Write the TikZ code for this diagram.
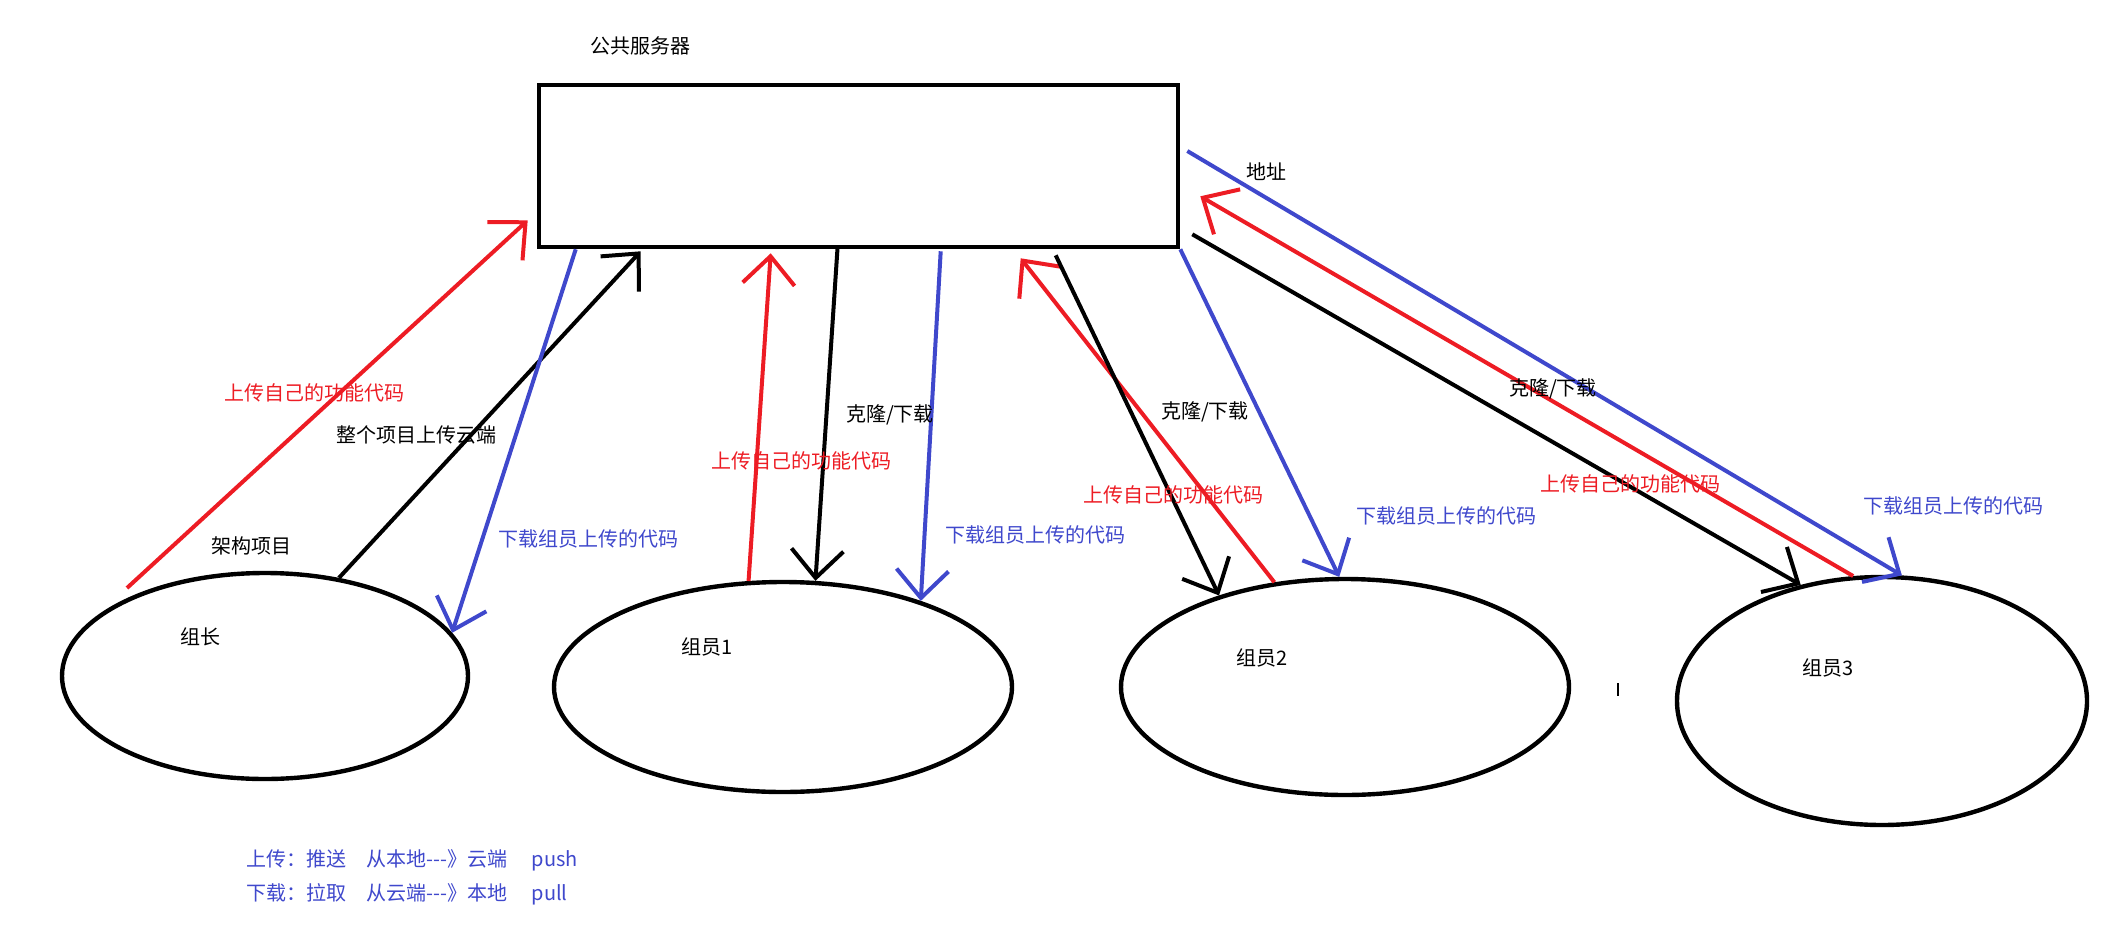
\documentclass[tikz,border=0pt]{standalone}
\usepackage{fontspec}
\usepackage{xcolor}
\usepackage{tikz}
\usetikzlibrary{shapes.geometric, arrows.meta, positioning}
\setmainfont{Noto Sans CJK SC}[Ligatures=TeXOff]

\definecolor{paintred}{HTML}{ED1C24}
\definecolor{paintblue}{HTML}{3F48CC}

\begin{document}
\begin{tikzpicture}[
    x=0.5pt, y=-0.5pt,
    server/.style={rectangle, draw, line width=2.3pt, minimum width=319.5pt, minimum height=81pt, inner sep=0pt},
    member/.style={ellipse, draw, line width=2.2pt, inner sep=0pt},
    txt/.style={font=\fontsize{10pt}{12pt}\selectfont, inner sep=0pt},
    redtxt/.style={txt, text=paintred},
    bluetxt/.style={txt, text=paintblue},
    arrow/.style={-{Straight Barb[length=14pt,width=26pt]}, line width=2pt},
    redarrow/.style={arrow, paintred},
    bluearrow/.style={arrow, paintblue}
]
\useasboundingbox (0,0) rectangle (2109,937);

% Server
\node[server] (server) at (858.5,166) {};
\node[txt] (servername) at (640,46) {公共服务器};

% Group
\node[member, minimum width=203pt, minimum height=103pt] (leader) at (265,676) {};
\node[member, minimum width=229pt, minimum height=105pt] (member1) at (783,687) {};
\node[member, minimum width=224pt, minimum height=108pt] (member2) at (1345,687) {};
\node[member, minimum width=205pt, minimum height=124pt] (member3) at (1882,701) {};
\node[txt] (leadername) at (200,637) {组长};
\node[txt] (member1name) at (707,647) {组员1};
\node[txt] (member2name) at (1262,658) {组员2};
\node[txt] (member3name) at (1828,668) {组员3};
\draw[line width=0.8pt] (1618,683) -- (1618,696);

% Leader arrows
\draw[redarrow] ([xshift=-69pt, yshift=44pt]leader.center) -- ([xshift=-4.5pt, yshift=14.5pt]server.south west);
\draw[arrow] (leader.53) -- ([xshift=52pt, yshift=-1pt]server.south west);
\draw[bluearrow] ([xshift=19.5pt]server.south west) -- (leader.13);
\node[redtxt] (leaderup) at (314,393) {上传自己的功能代码};
\node[txt] (leaderinit) at (416,435) {整个项目上传云端};
\node[bluetxt] (leaderdown) at (588,539) {下载组员上传的代码};
\node[txt] (leaderproject) at (251,546) {架构项目};

% Member 1 arrows
\draw[redarrow] (member1.108) -- ([xshift=117pt, yshift=-2pt]server.south west);
\draw[arrow] ([xshift=150.5pt, yshift=2pt]server.south west) -- (member1.73);
\draw[bluearrow] ([xshift=202pt, yshift=-1pt]server.south west) -- (member1.32);
\node[txt] (member1clone) at (890,415) {克隆/下载};
\node[redtxt] (member1up) at (801,461) {上传自己的功能代码};
\node[bluetxt] (member1down) at (1035,535) {下载组员上传的代码};

% Member 2 arrows
\draw[redarrow] (member2.124) -- ([xshift=242pt, yshift=-4.5pt]server.south west);
\draw[arrow] ([xshift=259.5pt, yshift=-3pt]server.south west) -- (member2.144);
\draw[bluearrow] (server.south east) -- (member2.93);
\node[txt] (member2clone) at (1205,412) {克隆/下载};
\node[redtxt] (member2up) at (1173,495) {上传自己的功能代码};
\node[bluetxt] (member2down) at (1446,516) {下载组员上传的代码};

% Member 3 arrows
\draw[arrow] ([xshift=6pt, yshift=7.5pt]server.south east) -- (member3.125);
\draw[redarrow] (member3.103) -- ([xshift=10pt, yshift=26.5pt]server.south east);
\draw[bluearrow] ([xshift=3.5pt, yshift=7.5pt]server.east) -- (member3.81);
\node[txt] (address) at (1266,172) {地址};
\node[txt] (member3clone) at (1553,389) {克隆/下载};
\node[redtxt] (member3up) at (1630,484) {上传自己的功能代码};
\node[bluetxt] (member3down) at (1953,506) {下载组员上传的代码};

% Legend
\node[bluetxt, anchor=west] (legendpush) at (246,860) {上传：推送\quad 从本地---》云端\quad\ push};
\node[bluetxt, anchor=west] (legendpull) at (246,894) {下载：拉取\quad 从云端---》本地\quad\ pull};

\end{tikzpicture}
\end{document}
